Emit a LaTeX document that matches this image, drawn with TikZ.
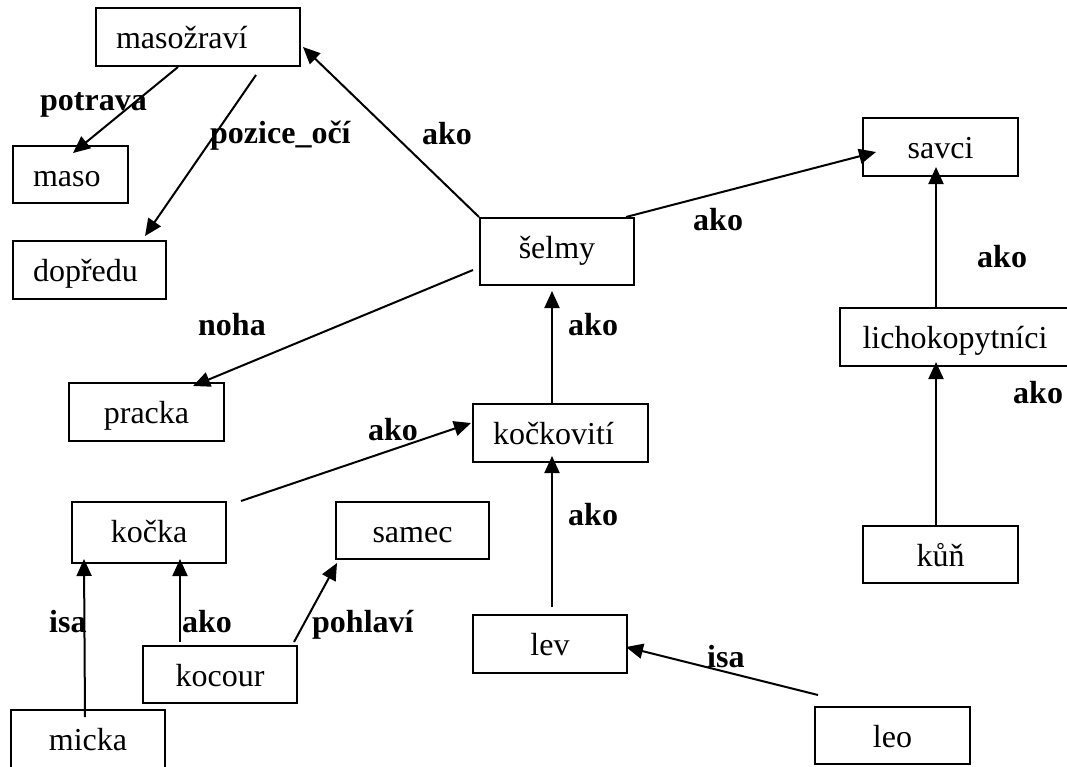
\documentclass[tikz,border=0pt]{standalone}
\usepackage{fontspec}
\setmainfont{Liberation Serif}
\usetikzlibrary{arrows.meta,calc}
\begin{document}
\begin{tikzpicture}[x=1pt,y=-1pt,
  box/.style={draw, line width=2pt, inner xsep=0pt, inner ysep=0pt,
    text height=40pt, font=\fontsize{32}{38}\selectfont},
  lbox/.style={box, align=left, inner xsep=20pt},
  link/.style={line width=2pt, -{Triangle[length=17pt,width=15pt]}},
  rel/.style={anchor=base west, inner sep=0pt,
    font=\fontsize{32}{38}\selectfont\bfseries}]
\useasboundingbox (0,0) rectangle (1067,766);

% concepts
\node[lbox, text width=164pt, text depth=18pt] (masozravi) at (198,37) {masožraví};
\node[lbox, text width=75pt,  text depth=17pt] (maso)      at (70.5,174.5) {maso};
\node[lbox, text width=113pt, text depth=18pt] (dopredu)   at (89.5,270) {dopředu};
\node[box, minimum width=155pt, text depth=18pt] (pracka)  at (146.5,412) {pracka};
\node[box, minimum width=154pt, text depth=27pt] (selmy)   at (557,251.5) {šelmy};
\node[box, minimum width=155pt, text depth=18pt] (savci)   at (940.5,147) {savci};
\node[box, minimum width=230pt, text depth=18pt] (licho)   at (955,337) {lichokopytníci};
\node[lbox, text width=135pt, text depth=18pt] (kockoviti) at (560.5,433) {kočkovití};
\node[box, minimum width=154pt, text depth=21pt] (kocka)   at (149,532.5) {kočka};
\node[box, minimum width=153pt, text depth=17pt] (samec)   at (412.5,530.5) {samec};
\node[box, minimum width=155pt, text depth=17pt] (kun)     at (940.5,554.5) {kůň};
\node[box, minimum width=154pt, text depth=18pt] (lev)     at (550,644) {lev};
\node[box, minimum width=154pt, text depth=17pt] (kocour)  at (220,674.5) {kocour};
\node[box, minimum width=154pt, text depth=18pt] (micka)   at (88,739) {micka};
\node[box, minimum width=155pt, text depth=17pt] (leo)     at (892.5,735.5) {leo};

% relations
\draw[link] ($(masozravi.south)+(-20,0)$) -- ($(maso.north)+(2.5,8)$);
\draw[link] ($(masozravi.south)+(58,8)$) -- ($(dopredu.north)+(55.5,-4)$);
\draw[link] (selmy.north west) -- ($(masozravi.east)+(2,10)$);
\draw[link] ($(selmy.north east)+(-9,0)$) -- ($(savci.west)+(14,5)$);
\draw[link] ($(selmy.west)+(-6,18.5)$) -- ($(pracka.north)+(46.5,4)$);
\draw[link] ($(kockoviti.north)+(-8.5,0)$) -- ($(selmy.south)+(-5,5)$);
\draw[link] ($(licho.north)+(-19,0)$) -- ($(savci.south)+(-4.5,-10)$);
\draw[link] ($(kun.north)+(-4.5,0)$) -- ($(licho.south)+(-19,-5)$);
\draw[link] ($(kocka.north east)+(14,0)$) -- ($(kockoviti.west)+(-1,-10)$);
\draw[link] ($(lev.north)+(2,-7)$) -- ($(kockoviti.south)+(-8.5,-7)$);
\draw[link] ($(micka.north)+(-3,8)$) -- ($(kocka.south west)+(13,-5)$);
\draw[link] ($(kocour.north)+(-40,-3)$) -- ($(kocka.south)+(31,-5)$);
\draw[link] ($(kocour.north east)+(-4,-3)$) -- ($(samec.south west)+(2,3)$);
\draw[link] ($(leo.north west)+(4,-11)$) -- ($(lev.east)+(-2,3)$);

% relation names
\node[rel] (l1)  at (40,110)   {potrava};
\node[rel] (l2)  at (210,143)  {pozice\_očí};
\node[rel] (l3)  at (422,144)  {ako};
\node[rel] (l4)  at (693,230)  {ako};
\node[rel] (l5)  at (977,267)  {ako};
\node[rel] (l6)  at (1013,403) {ako};
\node[rel] (l7)  at (198,335)  {noha};
\node[rel] (l8)  at (568,335)  {ako};
\node[rel] (l9)  at (368,440)  {ako};
\node[rel] (l10) at (568,525)  {ako};
\node[rel] (l11) at (49,632)   {isa};
\node[rel] (l12) at (182,632)  {ako};
\node[rel] (l13) at (312,632)  {pohlaví};
\node[rel] (l14) at (707,667)  {isa};
\end{tikzpicture}
\end{document}
